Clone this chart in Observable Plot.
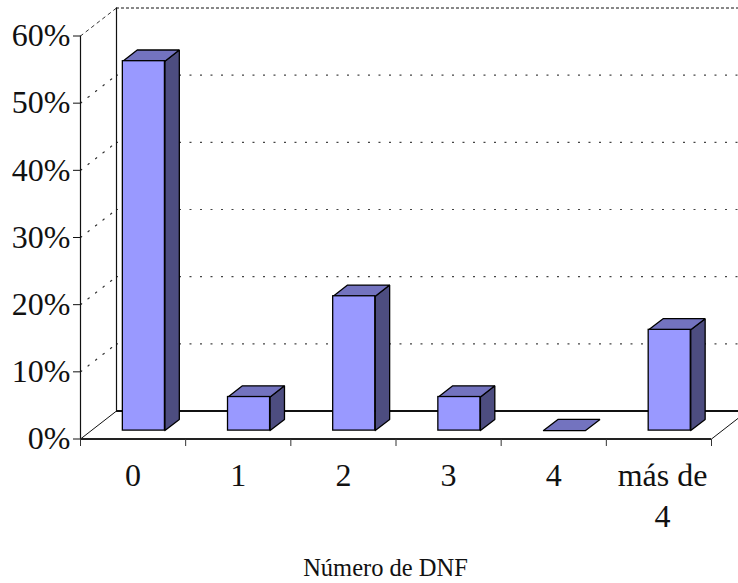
<!DOCTYPE html>
<html>
<head>
<meta charset="utf-8">
<script src="https://cdn.jsdelivr.net/npm/d3@7"></script>
<script src="https://cdn.jsdelivr.net/npm/@observablehq/plot@0.6"></script>
<style>html,body{margin:0;padding:0;background:#fff}svg{display:block}</style>
</head>
<body>
<div id="chart"></div>
<script>
const categories = ["0", "1", "2", "3", "4", "más de\n4"];
const values = [55, 5, 20, 5, 0, 15];
const yTicks = [0, 10, 20, 30, 40, 50, 60];
const gridValues = [10, 20, 30, 40, 50];
const xEdges = [0, 1, 2, 3, 4, 5, 6];

// Oblique depth of the chart box, in data units
const depthX = 0.3423, depthY = 4.167, wallEnd = 6 + depthX;
const barHalf = 0.2, near = 0.3, far = 0.7;

const bars = values.map((v, i) => {
  const cx = i + 0.5;
  const x0 = cx - barHalf + near * depthX, x1 = cx + barHalf + near * depthX;
  const y0 = near * depthY, y1 = v + near * depthY;
  const ox = (far - near) * depthX, oy = (far - near) * depthY;
  return {i, v, x0, x1, y0, y1, ox, oy};
});
const face = (pts) => pts.map(([x, y], k) => ({x, y, k}));
const topFace = bars.flatMap(b => face([[b.x0,b.y1],[b.x1,b.y1],[b.x1+b.ox,b.y1+b.oy],[b.x0+b.ox,b.y1+b.oy],[b.x0,b.y1]]).map(p => ({...p, bar:b.i})));
const sideFace = bars.filter(b => b.v > 0).flatMap(b => face([[b.x1,b.y0],[b.x1+b.ox,b.y0+b.oy],[b.x1+b.ox,b.y1+b.oy],[b.x1,b.y1],[b.x1,b.y0]]).map(p => ({...p, bar:b.i})));
const diagonals = (vs) => vs.flatMap(v => [{x:0,y:v,v},{x:depthX,y:v+depthY,v}]);

const serif = "'Liberation Serif','Times New Roman',serif";
const ink = "#111";

const plot = Plot.plot({
  width: 738, height: 583,
  marginLeft: 80, marginRight: 26, marginTop: 36, marginBottom: 144,
  style: {fontFamily: serif, background: "#fff", color: "#111"},
  x: {type: "linear", domain: [0, 6], range: [80, 711], axis: null},
  y: {type: "linear", domain: [0, 60], range: [438.5, 35.5], axis: null},
  marks: [
    // side wall and back wall grid
    Plot.line(diagonals(gridValues), {x:"x", y:"y", z:"v", stroke:"#333", strokeWidth:1.2, strokeDasharray:"1.5 8"}),
    Plot.ruleY(gridValues, {y: d => d + depthY, x1: depthX, x2: wallEnd, stroke:"#444", strokeWidth:1.2, strokeDasharray:"2 8.5"}),
    Plot.ruleY([60], {y: d => d + depthY, x1: depthX, x2: wallEnd, stroke:"#111", strokeWidth:1, strokeDasharray:"3 2"}),
    Plot.line(diagonals([60]), {x:"x", y:"y", stroke:"#333", strokeWidth:1, strokeDasharray:"3 4"}),
    // box edges
    Plot.ruleX([depthX], {y1: depthY, y2: 60 + depthY, stroke:ink, strokeWidth:1.2}),
    Plot.ruleY([depthY], {x1: depthX, x2: wallEnd, stroke:ink, strokeWidth:2}),
    Plot.line(diagonals([0]), {x:"x", y:"y", stroke:ink, strokeWidth:1}),
    Plot.line([{x:6,y:0},{x:wallEnd,y:depthY}], {x:"x", y:"y", stroke:ink, strokeWidth:1}),
    // axes
    Plot.ruleX([0], {y1: 0, y2: 60, stroke:ink, strokeWidth:1.2}),
    Plot.ruleY([0], {x1: 0, x2: 6, stroke:"#222", strokeWidth:2}),
    Plot.axisX(xEdges, {anchor:"bottom", tickSize:7, tickFormat:() => "", stroke:"#333", label:null}),
    Plot.axisY(yTicks, {anchor:"left", tickSize:7, tickPadding:3, fontSize:32, tickFormat:d => d + "%", stroke:ink, label:null, fill:"#111"}),
    // bars
    Plot.line(sideFace, {x:"x", y:"y", z:"bar", fill:"#4D4D80", stroke:"#000", strokeWidth:1.3, strokeLinejoin:"miter"}),
    Plot.line(topFace, {x:"x", y:"y", z:"bar", fill:"#7373BF", stroke:"#000", strokeWidth:1.3, strokeLinejoin:"miter"}),
    Plot.rect(bars.filter(b => b.v > 0), {x1:"x0", x2:"x1", y1:"y0", y2:"y1", fill:"#9999FF", stroke:"#000", strokeWidth:1.3}),
    // labels
    Plot.text(categories, {x:(d,i) => i + (i === 5 ? 0.535 : 0.5), y:0, text:d => d, dy:18, lineAnchor:"top", lineHeight:1.28, fontSize:32, fill:"#111"}),
    Plot.text(["Número de DNF"], {x:2.9, y:0, text:d => d, dy:129, lineAnchor:"middle", fontSize:24.5, fill:"#111"})
  ]
});
document.getElementById("chart").appendChild(plot);
</script>
</body>
</html>
